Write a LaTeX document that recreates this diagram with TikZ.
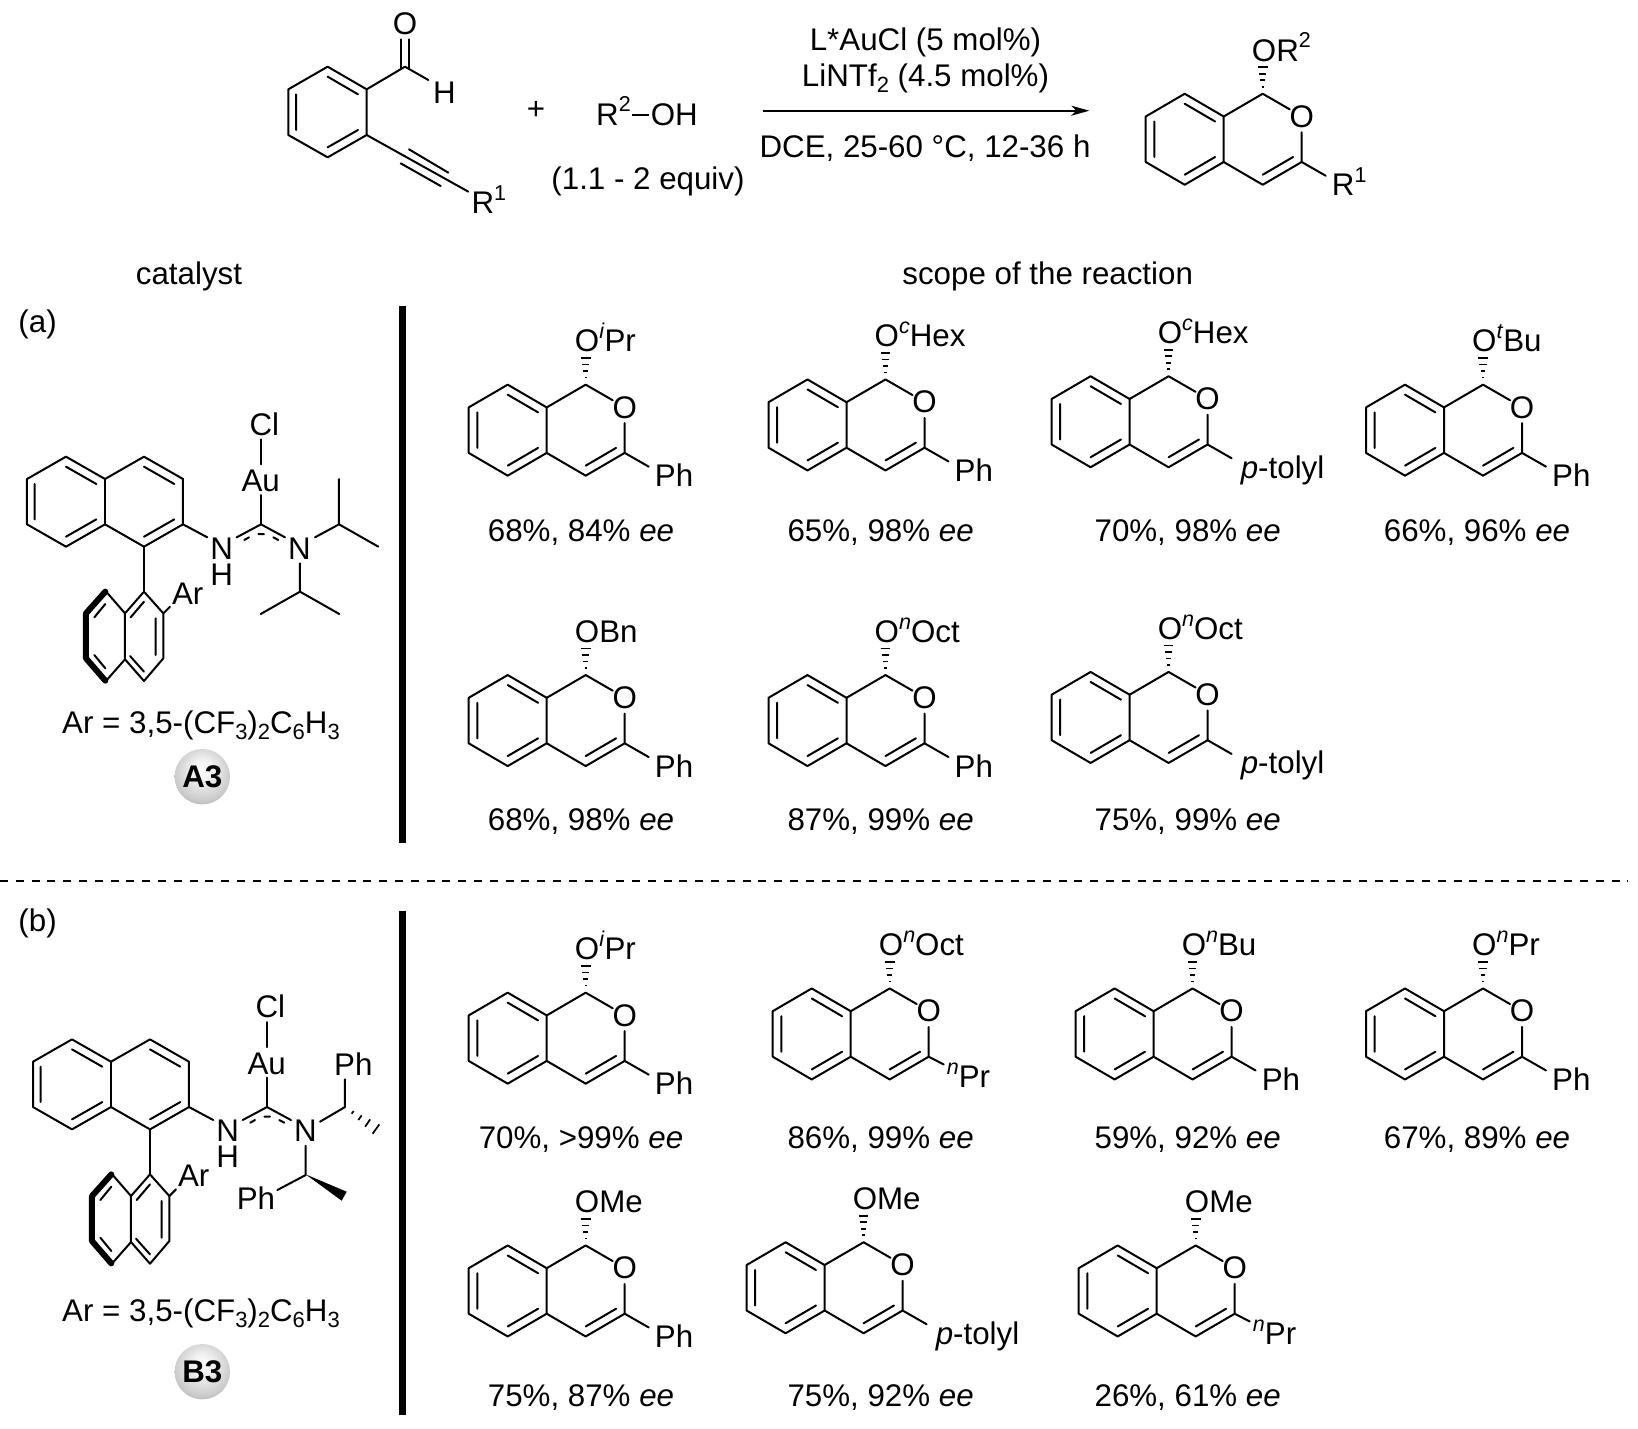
\documentclass[tikz,border=0pt]{standalone}
\usepackage{fontspec}
\setmainfont{Liberation Sans}
\usetikzlibrary{arrows.meta,calc}
\newcommand\sups[1]{\raisebox{0.42em}{\fontsize{21.5}{22}\selectfont #1}}
\newcommand\subs[1]{\raisebox{-0.2em}{\fontsize{22}{22}\selectfont #1}}
\pgfdeclareradialshading{mball}{\pgfpoint{0bp}{8bp}}{color(0bp)=(white);color(10bp)=(white!94!black);color(25bp)=(white!80!black);color(34bp)=(white!66!black);color(40bp)=(white!72!black);color(50bp)=(white!72!black)}
\tikzset{
 bond/.style={line width=2pt,line cap=round,line join=round},
 thickb/.style={line width=6pt,line cap=round,line join=round},
 lab/.style={inner sep=0pt,font=\fontsize{31.3}{34}\selectfont,text=black},
 baselab/.style={lab,anchor=base west},
 baseC/.style={lab,anchor=base},
}
% isochromene: [end of 3-bond] #2,#3 centre of ring O; #4 top substituent; #5 3-substituent; #6 name
\newcommand\iso[6][63,82]{%
\begin{scope}[shift={(#2-39,#3-22.75)}]
\draw[bond] (-39,22.75)--(-78,0)--(-117,22.75)--(-117,68.25)--(-78,91)--(-39,68.25)--cycle;
\draw[bond] (-39,68.25)--(0,91)--(39,68.25)--(39,38.5);
\draw[bond] (-39,22.75)--(0,0)--(27,15.6);
\draw[bond] (39,68.25)--(#1);
\draw[bond] (-78,10)--(-47.6,27.75) (-108.4,27.75)--(-108.4,63.25) (-78,81)--(-47.6,63.25) (30.4,63.25)--(0,81);
\foreach \yy/\ww in {-7/1.2,-13.5/2.4,-20/3.6,-26.5/4.8}{\draw[line width=1.6pt] (-\ww,\yy)--(\ww,\yy);}
\node[lab] (#6o) at (39,22.75) {O};
\node[baselab] (#6t) at (-11,-32.7) {#4};
\node[baselab] (#6r) at (69,102) {#5};
\end{scope}}
\newcommand\tol{\hspace{3pt}\textit{p}-tolyl}
\newcommand\npr{\hspace{-12pt}\raisebox{2.5pt}{\sups{\textit{n}}Pr}}
% shared catalyst core, in 3x zoom units
\newcommand\core{%
\draw[bond] (198,230)--(315,297)--(432,230)--(549,297)--(549,433)--(432,500)--(315,433)--(198,500)--(81,433)--(81,297)--cycle;
\draw[bond] (315,297)--(315,433);
\draw[bond] (198,260)--(289,312) (104,312)--(104,418) (198,470)--(289,418);
\draw[bond] (432,260)--(523,312) (523,418)--(432,470);
\draw[bond] (549,433)--(622,472);
\draw[bond] (432,500)--(432,635);
\draw[bond] (783,433)--(783,345) (783,253)--(783,178);
\draw[bond] (710,472)--(783,433)--(855,472);
\draw[bond] (733,480)--(747,472) (775,462)--(792,462) (820,472)--(835,480);
\draw[bond] (432,635)--(490,700)--(490,835)--(432,903)--(375,838)--(375,700)--cycle;
\draw[bond] (490,700)--(510,680);
\draw[bond] (467,715)--(467,825) (432,875)--(390,828) (392,712)--(432,665);
\draw[bond] (375,700)--(316,632) (375,838)--(316,905);
\draw[thickb] (316,635)--(258,700)--(258,835)--(316,902);
\draw[bond] (283,712)--(316,672) (283,825)--(316,865);
\node[lab,font=\fontsize{31.3}{26}\selectfont,align=center] (n1) at (665,544) {N\\H};
\node[lab] (n2) at (898,505) {N};
\node[lab] (au) at (782,303) {Au};
\node[lab] (cl) at (793,132) {Cl};
\node[lab] (ar) at (563,640) {Ar};}
\begin{document}
\begin{tikzpicture}[x=1pt,y=-1pt]
\useasboundingbox (0,0) rectangle (1638,1429);
% top reaction: starting material
\begin{scope}[shift={(260,0)},x=0.33333pt,y=-0.33333pt]
\draw[bond] (203,200)--(320,268)--(320,405)--(203,472)--(85,405)--(85,268)--cycle;
\draw[bond] (203,230)--(294,283) (108,283)--(108,390) (203,442)--(294,390);
\draw[bond] (320,268)--(435,200)--(505,240);
\draw[bond] (423,118)--(423,207) (447,118)--(447,207);
\draw[bond] (320,405)--(625,575) (447,448)--(565,518) (422,490)--(542,558);
\node[lab] (sO) at (435,72) {O};
\node[lab] (sH) at (553,277) {H};
\node[baselab] (sR) at (634,640) {R\sups{1}};
\end{scope}
\node[lab] (plus) at (536,110) {+};
\node[baselab] (roh) at (596,125) {R\sups{2}\hspace{1pt}\raisebox{0.3em}{\rule{17pt}{1.8pt}}\hspace{2pt}OH};
\node[lab] (eq) at (648,181) {(1.1 - 2 equiv)};
\node[baseC] (c1) at (925.5,50.5) {L*AuCl (5 mol\%)};
\node[baseC] (c2) at (925.5,86) {LiNTf\subs{2} (4.5 mol\%)};
\node[baseC] (c3) at (925,157) {DCE, 25-60 °C, 12-36 h};
\coordinate (as) at (762.7,110.7);
\coordinate (ae) at (1089.3,110.7);
\draw[line width=2pt,-{Stealth[length=18pt,width=10pt,inset=5pt]}] (as)--(ae);
\iso{1301.7}{116.5}{OR\sups{2}}{R\sups{1}}{p}
% headers
\node[lab] (hc) at (189,276.5) {catalyst};
\node[lab] (hs) at (1047.7,276.5) {scope of the reaction};
\node[lab] (la) at (37.6,324) {(a)};
\node[lab] (lb) at (37.6,923) {(b)};
\fill (399,306) rectangle (405.5,843);
\fill (399,911) rectangle (405.5,1415);
\draw[line width=1.8pt,dash pattern=on 8pt off 7.8pt] (0,880.6)--(1628,880.6);
% catalyst A3
\begin{scope}[shift={(0,380)},x=0.33333pt,y=-0.33333pt]
\core
\draw[bond] (945,472)--(1017,433)--(1017,297) (1017,433)--(1135,500);
\draw[bond] (900,550)--(900,635)--(782,702) (900,635)--(1018,702);
\end{scope}
\node[baselab] (fa) at (62,733) {Ar = 3,5-(CF\subs{3})\subs{2}C\subs{6}H\subs{3}};
\shade[shading=mball] (202.3,776.7) circle (27.7);
\node[lab,font=\fontsize{31.3}{34}\selectfont\bfseries] (a3) at (202.3,776.7) {A3};
% catalyst B3
\begin{scope}[shift={(6,962.7)},x=0.33333pt,y=-0.33333pt]
\core
\draw[bond] (942,477)--(1017,433)--(1017,350);
\draw[bond] (899,549)--(899,637)--(814,682);
\fill (899,635)--(1022,687)--(1007,714)--cycle;
\draw[line width=1.7pt] (1043,445)--(1037,453) (1067,458)--(1057,472) (1092.5,470)--(1077.5,492) (1120,485)--(1100,513);
\node[lab] (ph1) at (1042,304) {Ph};
\node[lab] (ph2) at (750,707) {Ph};
\end{scope}
\node[baselab] (fb) at (62,1321.7) {Ar = 3,5-(CF\subs{3})\subs{2}C\subs{6}H\subs{3}};
\shade[shading=mball] (202.3,1371.7) circle (27.7);
\node[lab,font=\fontsize{31.3}{34}\selectfont\bfseries] (b3) at (202.3,1371.7) {B3};
% scope A
\iso{624.7}{407.4}{O\sups{\textit{i}}Pr}{Ph}{a1}
\iso{924.5}{402.2}{O\sups{\textit{c}}Hex}{Ph}{a2}
\iso{1207.6}{399}{O\sups{\textit{c}}Hex}{\tol}{a3m}
\iso{1522}{407.4}{O\sups{\textit{t}}Bu}{Ph}{a4}
\iso{624.7}{697.8}{OBn}{Ph}{a5}
\iso{924.5}{697.8}{O\sups{\textit{n}}Oct}{Ph}{a6}
\iso{1207.6}{694.7}{O\sups{\textit{n}}Oct}{\tol}{a7}
% scope B
\iso{624.7}{1015.4}{O\sups{\textit{i}}Pr}{Ph}{b1}
\iso[54,76]{928.7}{1011.2}{O\sups{\textit{n}}Oct}{\npr}{b2}
\iso{1231.6}{1011.2}{O\sups{\textit{n}}Bu}{Ph}{b3m}
\iso{1522}{1011.2}{O\sups{\textit{n}}Pr}{Ph}{b4}
\iso{624.7}{1268.2}{OMe}{Ph}{b5}
\iso{902.6}{1265}{OMe}{\tol}{b6}
\iso[54,76]{1234.7}{1268.2}{OMe}{\npr}{b7}
% yields
\node[baseC] (ya1) at (581,541.5) {68\%, 84\% \textit{ee}};
\node[baseC] (ya2) at (880.6,541.5) {65\%, 98\% \textit{ee}};
\node[baseC] (ya3) at (1187.7,541.5) {70\%, 98\% \textit{ee}};
\node[baseC] (ya4) at (1477,541.5) {66\%, 96\% \textit{ee}};
\node[baseC] (ya5) at (581,830) {68\%, 98\% \textit{ee}};
\node[baseC] (ya6) at (880.6,830) {87\%, 99\% \textit{ee}};
\node[baseC] (ya7) at (1187.7,830) {75\%, 99\% \textit{ee}};
\node[baseC] (yb1) at (581,1148.5) {70\%, >99\% \textit{ee}};
\node[baseC] (yb2) at (880.6,1148.5) {86\%, 99\% \textit{ee}};
\node[baseC] (yb3) at (1187.7,1148.5) {59\%, 92\% \textit{ee}};
\node[baseC] (yb4) at (1477,1148.5) {67\%, 89\% \textit{ee}};
\node[baseC] (yb5) at (581,1406.5) {75\%, 87\% \textit{ee}};
\node[baseC] (yb6) at (880.6,1406.5) {75\%, 92\% \textit{ee}};
\node[baseC] (yb7) at (1187.7,1406.5) {26\%, 61\% \textit{ee}};
\end{tikzpicture}
\end{document}
